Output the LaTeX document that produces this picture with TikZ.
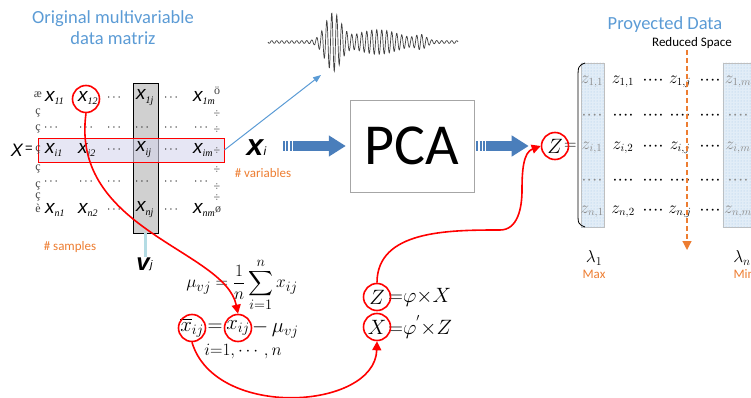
\documentclass[tikz,border=0pt]{standalone}
\usepackage{amsmath}
\usepackage{fontspec}
\setmainfont{Liberation Serif}
\newfontfamily\calib{Carlito}
\newfontfamily\arialf{Liberation Sans}
\usetikzlibrary{arrows.meta, positioning, patterns}
\definecolor{ttlblue}{RGB}{91,155,213}
\definecolor{lblorange}{RGB}{237,125,49}
\definecolor{fatblue}{RGB}{74,126,187}
\definecolor{colgray}{RGB}{208,208,208}
\definecolor{rowlav}{RGB}{214,214,236}
\definecolor{zshade}{RGB}{226,237,247}
\definecolor{stemblue}{RGB}{180,220,228}
% matrix entry x with its index
\newcommand{\xe}[1]{{\arialf\itshape x}\raisebox{-0.45ex}{\fontsize{10}{10}\selectfont\itshape #1}}

\begin{document}
\begin{tikzpicture}[x=1pt, y=-1pt,
    declare function={env(\t)=1.3+27*exp(-min(((\t-333)/11)^2,9))+11*exp(-min(((\t-378)/30)^2,9))+5*exp(-min(((\t-421)/7)^2,9));},
    ttl/.style={font=\calib\fontsize{18.5}{21}\selectfont, text=ttlblue, align=center},
    note/.style={font=\calib\fontsize{13}{13}\selectfont, text=lblorange},
    ent/.style={font=\fontsize{19}{19}\selectfont, inner sep=0pt, anchor=west},
    dt/.style={font=\fontsize{12}{12}\selectfont, inner sep=0pt},
    brk/.style={font=\fontsize{12}{12}\selectfont, inner sep=0pt, text=black!75},
    zent/.style={font=\fontsize{16}{16}\selectfont, inner sep=0pt},
    zdim/.style={zent, text=black!45},
    eq/.style={font=\fontsize{22}{22}\selectfont, inner sep=0pt},
    ring/.style={draw=red, line width=1.6pt, circle, minimum size=27pt, inner sep=0pt},
    rarr/.style={-{Triangle[length=9pt,width=9pt]}, draw=red, line width=1.6pt},
    larr/.style={-{Triangle[length=8pt,width=6pt]}, draw=ttlblue, line width=1pt},
    fat/.style={-{Triangle[length=17pt,width=20pt]}, draw=fatblue, line width=10pt},
    stripe/.style={draw=fatblue, line width=10pt, dash pattern=on 2pt off 1.3pt},
    oarr/.style={-{Triangle[length=9pt,width=9pt]}, draw=lblorange, line width=1.2pt, dash pattern=on 5pt off 3pt},
    zcol/.style={draw=black!25, fill=zshade, minimum width=23pt, minimum height=164pt, inner sep=0pt},
    wave/.style={draw=black!75, line width=0.7pt}
  ]
  \clip (0,0) rectangle (751,398);

  % data matrix X
  \node[ttl] (ttlX) at (113,28) {Original multivariable\\data matriz};
  \node[draw=black, fill=colgray, minimum width=25pt, minimum height=150pt, inner sep=0pt] (colj) at (145.5,158) {};
  \node[draw=red, line width=0.9pt, fill=rowlav, fill opacity=0.6, minimum width=186pt, minimum height=24pt, inner sep=0pt] (rowi) at (131,150) {};
  \node[font=\arialf\itshape\fontsize{18}{18}\selectfont, inner sep=0pt] (Xl) at (17,150) {X};
  \node[font=\arialf\fontsize{13}{13}\selectfont, inner sep=0pt] (Xeq) at (29,149) {=};

  \foreach \r/\y in {1/98, i/150, n/210} {
    \node[ent] (x\r-1) at (45,\y) {\xe{\r1}};
    \node[ent] (x\r-2) at (78,\y) {\xe{\r2}};
    \node[dt] (x\r-a) at (115,\y) {$\cdots$};
    \node[ent] (x\r-j) at (136,\y) {\xe{\r j}};
    \node[dt] (x\r-b) at (172,\y) {$\cdots$};
    \node[ent] (x\r-m) at (193,\y) {\xe{\r m}};
  }
  \foreach \y [count=\k] in {128, 182}
    \foreach \x in {52, 87, 115, 143, 172, 202}
      \node[dt] (dr\k-\x) at (\x,\y) {$\cdots$};

  % broken bracket glyphs
  \node[brk] (lbtop) at (38,95) {æ};
  \node[brk] (lbbot) at (38,208) {è};
  \node[brk] (rbtop) at (217,91) {ö};
  \node[brk] (rbbot) at (218,210) {ø};
  \foreach \y [count=\k] in {113, 129, 150, 169, 186, 197} {
    \node[brk] (lb\k) at (38,\y) {ç};
    \node[brk] (rb\k) at (217,\y+1) {÷};
  }

  \node[note] (nsamp) at (70,247) {\# samples};
  \node[font=\arialf\bfseries\itshape\fontsize{24}{24}\selectfont, inner sep=0pt] (vj) at (143,264) {v};
  \node[font=\arialf\itshape\fontsize{11}{11}\selectfont, inner sep=0pt, right=0pt of vj.south east, anchor=south west] (vjs) {j};
  \draw[draw=stemblue, line width=2.5pt] (colj.south) -- (colj.south |- vj.north);

  % signal and PCA block
  \draw[wave] plot[domain=268:458, samples=700] (\x, {42 + env(\x)*sin((\x-268)*72)});
  \coordinate (wavetip) at (321,75);
  \draw[larr] (rowi.east) -- (wavetip);

  \node[font=\arialf\bfseries\itshape\fontsize{30}{30}\selectfont, inner sep=0pt] (xi) at (255,148) {x};
  \node[font=\arialf\itshape\fontsize{12}{12}\selectfont, inner sep=0pt, anchor=south west] (xis) at (xi.south east) {i};
  \node[note] (nvar) at (263,173) {\# variables};

  \node[draw=black!35, fill=white, minimum width=124pt, minimum height=92pt, font=\calib\fontsize{58}{58}\selectfont] (pca) at (412,146) {PCA};
  \coordinate (f1) at (283,146);
  \draw[stripe] (f1) -- ++(9,0);
  \draw[fat] ([xshift=10pt]f1) -- ([xshift=-4pt]pca.west);

  % projected data Z
  \node[ttl] (ttlZ) at (665,25) {Proyected Data};
  \node[font=\calib\fontsize{13}{13}\selectfont] (rspace) at (692,43) {Reduced Space};
  \node[zcol] (zc1) at (592.5,145) {};
  \node[zcol, minimum width=30pt] (zc6) at (738,145) {};
  \fill[pattern=dots, pattern color=ttlblue!55] (zc1.south west) rectangle (zc1.north east);
  \fill[pattern=dots, pattern color=ttlblue!55] (zc6.south west) rectangle (zc6.north east);
  \draw[line width=0.8pt] (585,63) .. controls (578,66) .. (578,80) -- (578,212) .. controls (578,224) .. (585,227);

  \foreach \r/\s/\y in {1/{1,1}/82, i/{i,2}/148, n/{n,2}/212} {
    \node[zdim] (z\r-1) at (592,\y) {$z_{\r,1}$};
    \node[zent] (z\r-2) at (623,\y) {$z_{\s}$};
    \node[zent] (z\r-a) at (653,\y) {····};
    \node[zent] (z\r-j) at (680,\y) {$z_{\r,j}$};
    \node[zent] (z\r-b) at (710,\y) {····};
    \node[zdim] (z\r-m) at (738,\y) {$z_{\r,m}$};
  }
  \foreach \y [count=\k] in {117, 182} {
    \node[zdim] (zd\k-1) at (592,\y) {····};
    \foreach \x in {623, 653, 680, 710}
      \node[zent] (zd\k-\x) at (\x,\y) {····};
    \node[zdim] (zd\k-6) at (738,\y) {····};
  }
  \coordinate (rtop) at (687,50);
  \coordinate (rbot) at (687,250);
  \draw[oarr] (rtop) -- (rbot);

  \node[eq, font=\fontsize{18}{18}\selectfont] (lam1) at (594,258) {$\lambda_1$};
  \node[note] (lmax) at (594,274) {Max};
  \node[eq, font=\fontsize{18}{18}\selectfont] (lamn) at (742,258) {$\lambda_n$};
  \node[note] (lmin) at (744,274) {Min};

  \node[eq] (Zbig) at (555,146) {$Z$};
  \node[eq, font=\fontsize{16}{16}\selectfont, anchor=west] (Zbeq) at ([xshift=1pt]Zbig.east) {$=$};
  \node[ring] (Zr) at (555,146) {};
  \draw[stripe] ([xshift=2pt]pca.east) -- ++(9,0);
  \draw[fat] ([xshift=12pt]pca.east) -- ([xshift=-12pt]Zr.west |- pca.east);

  % formulas
  \node[eq, font=\fontsize{19}{19}\selectfont] (mu) at (242,285) {$\displaystyle \mu_{vj} = \frac{1}{n}\sum_{i=1}^{n} x_{ij}$};
  \node[eq] (xbar) at (192,328) {$\overline{x}_{ij}$};
  \node[eq] (eqa) at (215,328) {$=$};
  \node[eq] (xij) at (238,328) {$x_{ij}$};
  \node[eq, anchor=west] (mrest) at (252,329) {$-\,\mu_{vj}$};
  \node[font=\fontsize{16}{16}\selectfont] (irange) at (243,352) {$i{=}1,\cdots,n$};
  \node[ring] (xbr) at (192,328) {};
  \node[ring] (xijr) at (238,328) {};
  \node[ring] (x12r) at (86,99) {};

  \node[eq] (zz) at (377,297) {$Z$};
  \node[eq, anchor=west] (zrest) at (388,297) {${=}\varphi{\times}X$};
  \node[eq] (xx) at (377,327) {$X$};
  \node[eq, anchor=west] (xrest) at (388,327) {${=}\varphi^{'}{\times}Z$};
  \node[ring] (zzr) at (377,297) {};
  \node[ring] (xxr) at (377,327) {};

  % red links
  \draw[rarr] (x12r.south) .. controls (70,230) and (225,250) .. (xijr.north);
  \draw[rarr] (xbr.south) .. controls (215,420) and (375,410) .. (xxr.south);
  \draw[rarr] (zzr.north) to[out=90, in=180] (500,230) to[out=0, in=-90] (522,190) to[out=90, in=200] (Zr.west);
\end{tikzpicture}
\end{document}
